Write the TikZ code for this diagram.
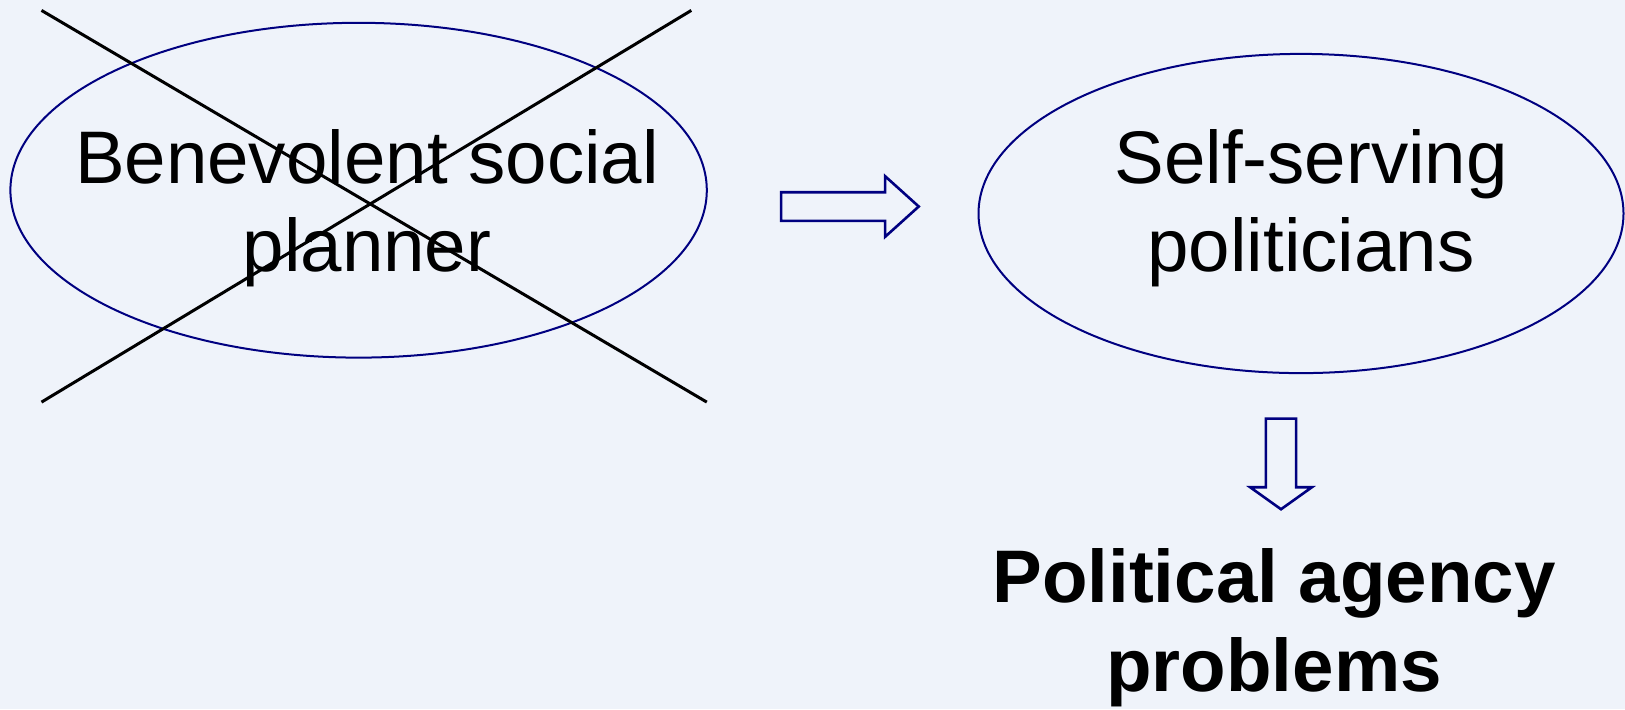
\documentclass[tikz,border=0pt]{standalone}
\usepackage{fontspec}
\setmainfont{Liberation Sans}
\usetikzlibrary{shapes.geometric, shapes.arrows}
\definecolor{slidebg}{RGB}{239,243,250}
\definecolor{navyline}{RGB}{0,0,128}
\tikzset{
oval/.style = { ellipse, draw = navyline, line width = 1pt, fill = none, inner sep = 0pt },
block arrow/.style = { single arrow, draw = navyline, line width = 1.3pt, fill = none },
cross line/.style = { draw = black, line width = 1.5pt },
plain text/.style = { black, align = center, inner sep = 0pt, font = \fontsize{37.25}{44.15}\selectfont },
bold text/.style = { black, align = center, inner sep = 0pt, font = \fontsize{37.25}{44.15}\selectfont\bfseries },
}

\begin{document}
\begin{tikzpicture}[x = 0.5pt, y = -0.5pt]
    \fill[slidebg] (0, 0) rectangle (1625, 709);
    \useasboundingbox (0, 0) rectangle (1625, 709);
    % the two ovals
    \node[oval, minimum width = 348.2pt, minimum height = 167.4pt] (planner oval) at (358.6, 190.2) {};
    \node[oval, minimum width = 322.5pt, minimum height = 159.6pt] (politicians oval) at (1301, 213.5) {};
    % base = baseline of the last line
    \node[plain text, anchor = base] (planner) at (367, 271.7) {Benevolent social\\planner};
    \node[plain text, anchor = base] (politicians) at (1311, 271.7) {Self-serving\\politicians};
    % crossed out
    \coordinate (cross nw) at (41.5, 10.4);
    \coordinate (cross se) at (706.8, 402.1);
    \coordinate (cross sw) at (41.5, 402.1);
    \coordinate (cross ne) at (691.3, 10.4);
    \path[cross line] (cross nw) -- (cross se);
    \path[cross line] (cross sw) -- (cross ne);
    % block arrows
    \node[block arrow, inner sep = 6.5pt, minimum height = 68.8pt, single arrow head extend = 8pt, single arrow tip angle = 84] (right arrow) at (842, 206.5) {};
    \node[block arrow, inner sep = 6.9pt, minimum height = 45.35pt, single arrow head extend = 7.9pt, single arrow tip angle = 109, shape border rotate = 270] (down arrow) at (1281, 458.5) {};
    \node[bold text, anchor = base] (agency) at (1274, 691) {Political agency\\problems};
\end{tikzpicture}
\end{document}
